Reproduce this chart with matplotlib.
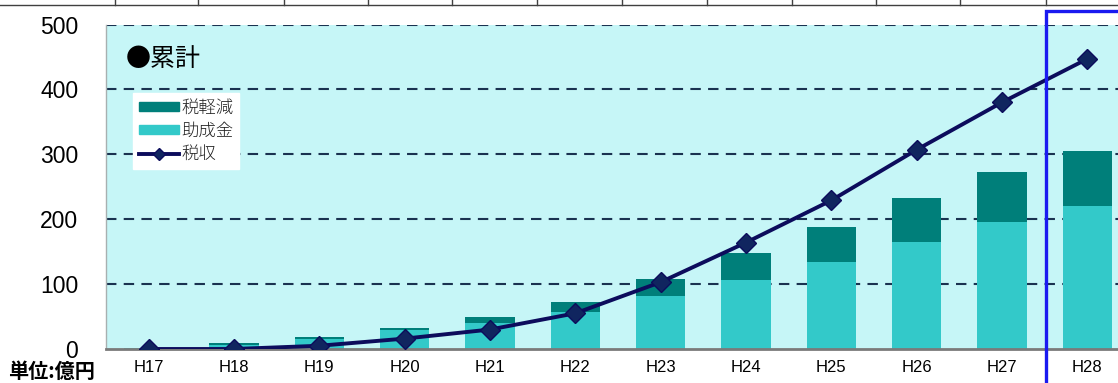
import matplotlib.pyplot as plt
from matplotlib.patches import Rectangle
from matplotlib.lines import Line2D
import numpy as np

plt.rcParams['font.family'] = ['Liberation Sans', 'Noto Sans CJK JP', 'DejaVu Sans']

# data (unit: 億円, cumulative)
years = ['H17', 'H18', 'H19', 'H20', 'H21', 'H22', 'H23', 'H24', 'H25', 'H26', 'H27', 'H28']
subsidy = [1.5, 6, 15, 29, 40, 57, 81, 106, 134, 165, 195, 220]      # 助成金
tax_cut = [0.5, 3, 3, 4, 10, 16, 27, 42, 54, 68, 77, 85]             # 税軽減
tax_revenue = [0, 0, 5, 16, 30, 55, 103, 164, 229, 307, 380, 447]   # 税収
yticks = [0, 100, 200, 300, 400, 500]

W, H = 1118, 383
fig = plt.figure(figsize=(W / 100, H / 100), dpi=100)
ax = fig.add_axes([106 / W, 1 - 349 / H, 1 - 106 / W, (349 - 24.5) / H])

x = np.arange(len(years))
ax.set_facecolor('#c6f6f7')
ax.bar(x, subsidy, width=0.58, color='#33c9c9', zorder=2, label='助成金')
ax.bar(x, tax_cut, bottom=subsidy, width=0.58, color='#007f7a', zorder=2, label='税軽減')
ax.plot(x, tax_revenue, color='#0c0c5c', lw=2.8, marker='D', ms=10,
        mfc='#10255f', mec='#0c0c5c', zorder=4, label='税収')

ax.set_xlim(-0.5, 11.36)
ax.set_ylim(0, 500)
ax.set_yticks(yticks)
ax.set_yticklabels([str(v) for v in yticks], fontsize=16.5)
ax.set_xticks(x)
ax.set_xticklabels(years, fontsize=12)
ax.tick_params(length=0)
ax.tick_params(axis='y', pad=20)
ax.tick_params(axis='x', pad=8)

for v in yticks[1:]:
    ax.axhline(v, color='#1a3250', lw=1.5, ls=(0, (5, 3.5)), zorder=1)

for s in ['top', 'right']:
    ax.spines[s].set_visible(False)
ax.spines['bottom'].set_color('#7a7a7a')
ax.spines['bottom'].set_linewidth(2)
ax.spines['bottom'].set_zorder(3)
ax.spines['left'].set_color('#a8b0b0')
ax.spines['left'].set_linewidth(1)

ax.text(0.02, 0.895, '●累計', transform=ax.transAxes, fontsize=18,
        family=['Noto Sans CJK JP'], va='center', ha='left')

handles = [Rectangle((0, 0), 1, 1, color='#007f7a'),
           Rectangle((0, 0), 1, 1, color='#33c9c9'),
           Line2D([], [], color='#0c0c5c', lw=2.8, marker='D', ms=6.5, mfc='#10255f')]
leg = ax.legend(handles, ['税軽減', '助成金', '税収'], loc='upper left',
                bbox_to_anchor=(0.027, 0.79), frameon=True, fancybox=False,
                edgecolor='white', facecolor='white', framealpha=1,
                prop={'family': 'Noto Sans CJK JP', 'size': 12.5, 'weight': 'light'},
                handlelength=2.3, handleheight=0.45, handletextpad=0.1,
                labelspacing=0.3, borderpad=0.35, borderaxespad=0)
leg.set_zorder(5)
for t in leg.get_texts():
    t.set_color('#202020')

fig.text(8 / W, 1 - 382 / H, '単位:億円', fontsize=14.5, fontweight='bold',
         family=['Noto Sans CJK JP'], va='bottom', ha='left')

# blue highlight frame around the last year
fig.add_artist(Rectangle((1046 / W, -0.05), 0.2, 1.05 - 11 / H, transform=fig.transFigure,
                         fill=False, edgecolor='#1a1af0', lw=2.4, zorder=10))

# remnants of the table border at the very top
fig.add_artist(Line2D([0, 1], [1 - 5 / H, 1 - 5 / H], transform=fig.transFigure,
                      color='#404040', lw=1))
for px in [115, 198, 284, 368, 452, 537, 622, 707, 792, 876, 960, 1046]:
    fig.add_artist(Line2D([px / W, px / W], [1 - 5 / H, 1], transform=fig.transFigure,
                          color='#404040', lw=1))

fig.savefig('out.png', dpi=100)
